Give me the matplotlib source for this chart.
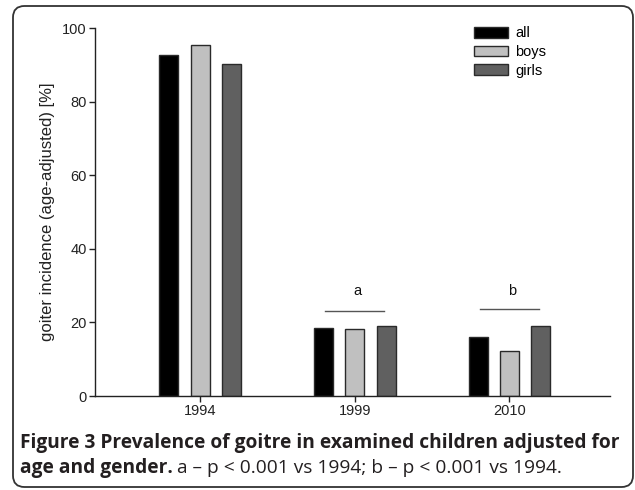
import matplotlib
matplotlib.use("Agg")
import matplotlib.pyplot as plt
from matplotlib.patches import FancyBboxPatch
import numpy as np

years = ["1994", "1999", "2010"]
series = ["all", "boys", "girls"]
all_vals = [92.7, 18.6, 16.0]
boys_vals = [95.3, 18.2, 12.3]
girls_vals = [90.2, 19.0, 19.0]
yticks = [0, 20, 40, 60, 80, 100]
sig_labels = ["a", "b"]
sig_groups = [1, 2]
sig_line_y = [23.1, 23.6]
sig_text_y = [28.5, 28.5]

colors = ["#000000", "#c0c0c0", "#606060"]

W, H = 635, 490
fig = plt.figure(figsize=(W / 100, H / 100), dpi=100)
plt.rcParams['font.family'] = ['Liberation Sans', 'DejaVu Sans']

# rounded frame
frame = FancyBboxPatch((13 / W, 3 / H), (633 - 13) / W, (484 - 3) / H,
                       boxstyle="round,pad=0,rounding_size=0.018",
                       transform=fig.transFigure, fill=False,
                       edgecolor="#333333", linewidth=1.3, mutation_aspect=W / H)
fig.patches.append(frame)

ax = fig.add_axes([95 / W, 1 - 396 / H, (610 - 95) / W, (396 - 28) / H])
x = np.arange(len(years))
pitch = 0.203
width = 0.123
vals = [all_vals, boys_vals, girls_vals]
for i, (name, v) in enumerate(zip(series, vals)):
    ax.bar(x + (i - 1) * pitch, v, width=width, color=colors[i],
           edgecolor="#2a2a2a", linewidth=1.0, label=name, zorder=2)

for lab, g, ly, ty in zip(sig_labels, sig_groups, sig_line_y, sig_text_y):
    ax.plot([g - 0.19, g + 0.19], [ly, ly], color="#555555", linewidth=1.0)
    ax.text(g + 0.02, ty, lab, ha="center", va="center", fontsize=10.5, color="#111111")

ax.set_xlim(-0.68, 2.65)
ax.set_ylim(0, 100)
ax.set_xticks(x)
ax.set_xticklabels(years, fontsize=10.5)
ax.set_yticks(yticks)
ax.set_yticklabels([str(t) for t in yticks], fontsize=10.5)
for s in ["top", "right"]:
    ax.spines[s].set_visible(False)
for s in ["left", "bottom"]:
    ax.spines[s].set_linewidth(1.0)
    ax.spines[s].set_color("#222222")
ax.tick_params(axis="both", length=4, width=1.0, color="#222222", pad=2, labelcolor="#222222")
ax.set_ylabel("goiter incidence (age-adjusted) [%]", fontsize=12, color="#222222", labelpad=5)

leg = ax.legend(loc="upper left", bbox_to_anchor=(0.71, 1.04), frameon=False,
                fontsize=10.5, handlelength=2.35, handleheight=0.75, labelspacing=0.32,
                handletextpad=0.5)

# caption
cap_font = ['Open Sans', 'DejaVu Sans']
cap_color = "#231f20"
fs = 12.3
t1 = fig.text(20 / W, 1 - 443 / H, "Figure 3 Prevalence of goitre in examined children adjusted for",
              fontsize=fs, fontweight="bold", family=cap_font, color=cap_color, va="center")
fig.canvas.draw()
w1 = t1.get_window_extent().width
fs = fs * (621 - 20) / w1
t1.set_fontsize(fs)
t2 = fig.text(20 / W, 1 - 468 / H, "age and gender.", fontsize=fs, fontweight="bold",
              family=cap_font, color=cap_color, va="center")
fig.canvas.draw()
bb = t2.get_window_extent()
fig.text((bb.x1 + 4) / W, 1 - 468 / H, "a \u2013 p < 0.001 vs 1994; b \u2013 p < 0.001 vs 1994.",
         fontsize=fs, family=cap_font, color=cap_color, va="center")

fig.savefig("out.png", dpi=100)
